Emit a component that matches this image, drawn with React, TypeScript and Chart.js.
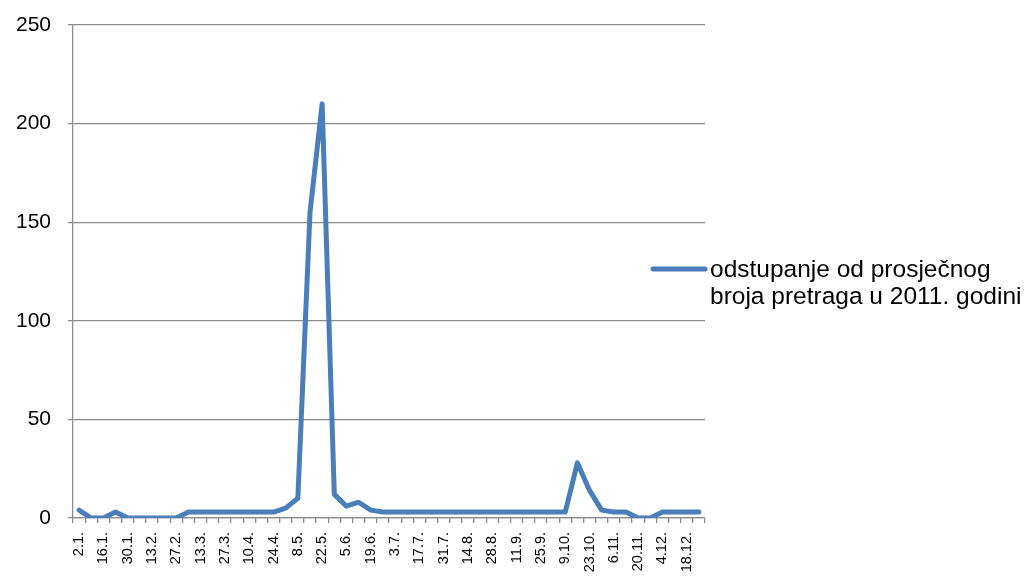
import React, { useEffect, useRef } from "react";
import { Chart, registerables } from "chart.js";

Chart.register(...registerables);

const weekLabels: string[] = [
  "2.1.", "9.1.", "16.1.", "23.1.", "30.1.", "6.2.", "13.2.", "20.2.", "27.2.",
  "6.3.", "13.3.", "20.3.", "27.3.", "3.4.", "10.4.", "17.4.", "24.4.",
  "1.5.", "8.5.", "15.5.", "22.5.", "29.5.", "5.6.", "12.6.", "19.6.", "26.6.",
  "3.7.", "10.7.", "17.7.", "24.7.", "31.7.", "7.8.", "14.8.", "21.8.", "28.8.",
  "4.9.", "11.9.", "18.9.", "25.9.", "2.10.", "9.10.", "16.10.", "23.10.", "30.10.",
  "6.11.", "13.11.", "20.11.", "27.11.", "4.12.", "11.12.", "18.12.", "25.12.",
];

const deviationValues: number[] = [
  4, 0, 0, 3, 0, 0, 0, 0, 0,
  3, 3, 3, 3, 3, 3, 3, 3,
  5, 10, 155, 210, 12, 6, 8, 4, 3,
  3, 3, 3, 3, 3, 3, 3, 3, 3,
  3, 3, 3, 3, 3, 3, 28, 14, 4,
  3, 3, 0, 0, 3, 3, 3, 3,
];

const seriesName: string[] = ["odstupanje od prosječnog", "broja pretraga u 2011. godini"];
const yTicks: number[] = [0, 50, 100, 150, 200, 250];

const LINE_COLOR = "#4A7EBB";
const GRID_COLOR = "#8C8C8C";
const FONT = "'Liberation Sans', 'DejaVu Sans', sans-serif";

const legendPlugin = {
  id: "customLegend",
  afterDraw(chart: any) {
    const ctx = chart.ctx;
    const area = chart.chartArea;
    const yMid = 269;
    ctx.save();
    ctx.strokeStyle = LINE_COLOR;
    ctx.lineWidth = 5;
    ctx.lineCap = "round";
    ctx.beginPath();
    ctx.moveTo(area.right - 52, yMid);
    ctx.lineTo(area.right, yMid);
    ctx.stroke();
    ctx.fillStyle = "#000000";
    ctx.font = `24.5px ${FONT}`;
    ctx.textBaseline = "middle";
    ctx.textAlign = "left";
    ctx.fillText(seriesName[0], area.right + 5, yMid + 1);
    ctx.fillText(seriesName[1], area.right + 5, yMid + 28);
    ctx.restore();
  },
};

export default function App() {
  const canvasRef = useRef<HTMLCanvasElement | null>(null);

  useEffect(() => {
    document.body.style.margin = "0";
    const canvas = canvasRef.current;
    if (!canvas) return;
    const chart = new Chart(canvas, {
      type: "line",
      data: {
        labels: weekLabels,
        datasets: [
          {
            label: seriesName.join(" "),
            data: deviationValues,
            borderColor: LINE_COLOR,
            backgroundColor: LINE_COLOR,
            borderWidth: 5,
            pointRadius: 0,
            tension: 0,
            borderCapStyle: "round",
            borderJoinStyle: "round",
          },
        ],
      },
      options: {
        animation: false,
        responsive: true,
        maintainAspectRatio: false,
        layout: { padding: { top: 25, right: 322, bottom: 0, left: 0 } },
        plugins: {
          legend: { display: false },
          tooltip: { enabled: false },
        },
        scales: {
          x: {
            type: "category",
            offset: true,
            grid: {
              display: true,
              offset: true,
              drawOnChartArea: false,
              drawTicks: true,
              tickLength: 5,
              color: GRID_COLOR,
              lineWidth: 1.3,
            },
            border: { display: true, color: GRID_COLOR, width: 1.3 },
            ticks: {
              autoSkip: false,
              minRotation: 90,
              maxRotation: 90,
              padding: 9,
              color: "#000000",
              font: { family: FONT, size: 14.5 },
              callback: (_v: any, i: number) => (i % 2 === 0 ? weekLabels[i] : ""),
            },
            afterFit: (scale: any) => {
              scale.height = 59;
              scale.paddingLeft = 0;
              scale.paddingRight = 0;
            },
          },
          y: {
            min: 0,
            max: 250,
            afterBuildTicks: (scale: any) => {
              scale.ticks = yTicks.map((v) => ({ value: v }));
            },
            grid: {
              color: GRID_COLOR,
              lineWidth: 1.3,
              tickLength: 5,
              drawTicks: true,
            },
            border: { display: true, color: GRID_COLOR, width: 1.3 },
            ticks: {
              padding: 17,
              color: "#000000",
              font: { family: FONT, size: 21 },
            },
            afterFit: (scale: any) => {
              scale.width = 73;
              scale.paddingTop = 0;
              scale.paddingBottom = 0;
            },
          },
        },
      },
      plugins: [legendPlugin],
    });
    return () => chart.destroy();
  }, []);

  return (
    <div style={{ position: "relative", width: "1027px", height: "577px" }}>
      <canvas ref={canvasRef} />
    </div>
  );
}
